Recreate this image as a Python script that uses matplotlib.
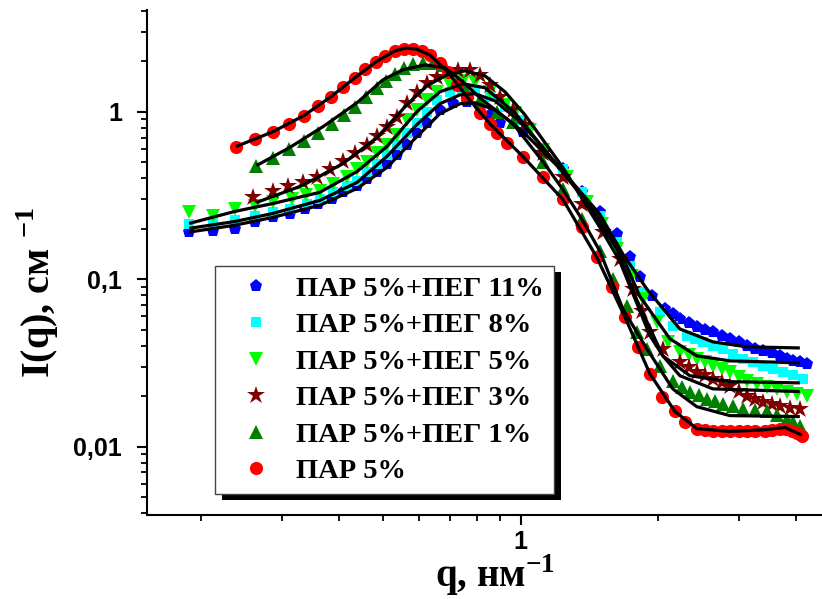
import matplotlib
matplotlib.use("Agg")
import matplotlib.pyplot as plt
from matplotlib.patches import Rectangle
from matplotlib.ticker import FixedLocator, FuncFormatter, NullFormatter

plt.rcParams["font.family"] = "Liberation Sans"
plt.rcParams["font.weight"] = "bold"
plt.rcParams["mathtext.fontset"] = "custom"
plt.rcParams["mathtext.rm"] = "Liberation Serif:bold"
plt.rcParams["mathtext.bf"] = "Liberation Serif:bold"

# --- measured points (q, nm^-1 ; I, cm^-1) ---
blue_q = [0.188, 0.212, 0.237, 0.262, 0.287, 0.312, 0.337, 0.360, 0.386, 0.408,
          0.438, 0.460, 0.484, 0.509, 0.536, 0.563, 0.592, 0.623, 0.665, 0.710,
          0.762, 0.813, 0.855, 0.900, 1.010, 1.117, 1.236, 1.360, 1.489, 1.623,
          1.731, 1.82, 1.934, 2.066, 2.15, 2.228, 2.33, 2.427, 2.53, 2.631,
          2.75, 2.867, 3.0, 3.123, 3.25, 3.384, 3.54, 3.688, 3.82, 3.937,
          4.08, 4.225]
blue_I = [0.191, 0.193, 0.198, 0.218, 0.234, 0.244, 0.261, 0.280, 0.299, 0.330,
          0.358, 0.394, 0.434, 0.484, 0.555, 0.636, 0.750, 0.860, 1.028, 1.131,
          1.147, 1.056, 0.960, 0.860, 0.760, 0.578, 0.452, 0.330, 0.251, 0.185,
          0.135, 0.103, 0.0792, 0.0663, 0.062, 0.0578, 0.0545, 0.0518, 0.050, 0.0484,
          0.046, 0.0440, 0.042, 0.0399, 0.0385, 0.0373, 0.036, 0.0348, 0.0335, 0.0325,
          0.0318, 0.0312]

cyan_q = [0.188, 0.212, 0.237, 0.262, 0.287, 0.312, 0.340, 0.363, 0.388, 0.416,
          0.438, 0.460, 0.484, 0.509, 0.536, 0.563, 0.592, 0.623, 0.655, 0.699,
          0.743, 0.793, 0.855, 0.923, 0.995, 1.117, 1.236, 1.360, 1.489, 1.623,
          1.731, 1.849, 2.015, 2.150, 2.308, 2.40, 2.501, 2.63, 2.767, 2.91,
          3.060, 3.22, 3.384, 3.56, 3.744, 3.94, 4.141]
cyan_I = [0.213, 0.215, 0.224, 0.237, 0.251, 0.261, 0.280, 0.299, 0.330, 0.358,
          0.383, 0.434, 0.484, 0.555, 0.636, 0.750, 0.860, 1.0, 1.179, 1.315,
          1.370, 1.35, 1.228, 1.071, 0.896, 0.611, 0.452, 0.330, 0.237, 0.166,
          0.120, 0.0837, 0.0636, 0.0525, 0.0458, 0.044, 0.0422, 0.040, 0.0383, 0.0358,
          0.0334, 0.0318, 0.0303, 0.029, 0.0280, 0.0267, 0.0254]

lime_q = [0.188, 0.212, 0.237, 0.262, 0.287, 0.315, 0.338, 0.363, 0.388, 0.416,
          0.438, 0.460, 0.484, 0.509, 0.536, 0.563, 0.592, 0.623, 0.655, 0.699,
          0.747, 0.793, 0.855, 0.923, 0.970, 1.046, 1.117, 1.261, 1.394, 1.504,
          1.623, 1.749, 1.849, 1.984, 2.097, 2.228, 2.33, 2.427, 2.53, 2.631,
          2.75, 2.867, 3.0, 3.123, 3.29, 3.454, 3.63, 3.819, 4.02, 4.225]
lime_I = [0.251, 0.237, 0.261, 0.272, 0.287, 0.299, 0.316, 0.334, 0.368, 0.410,
          0.452, 0.504, 0.570, 0.636, 0.730, 0.896, 1.028, 1.179, 1.315, 1.448,
          1.529, 1.509, 1.315, 1.101, 0.986, 0.781, 0.594, 0.410, 0.287, 0.213,
          0.151, 0.104, 0.0760, 0.0555, 0.0422, 0.0368, 0.035, 0.0334, 0.0318, 0.0303,
          0.029, 0.0280, 0.0262, 0.0247, 0.0237, 0.0228, 0.022, 0.0213, 0.0207, 0.0201]

star_q = [0.259, 0.287, 0.309, 0.333, 0.358, 0.382, 0.408, 0.433, 0.460, 0.484,
          0.509, 0.536, 0.563, 0.592, 0.623, 0.655, 0.689, 0.728, 0.775, 0.813,
          0.855, 0.900, 0.961, 1.020, 1.117, 1.236, 1.360, 1.511, 1.646, 1.758,
          1.840, 1.916, 2.045, 2.228, 2.33, 2.427, 2.53, 2.631, 2.75, 2.867,
          3.0, 3.123, 3.25, 3.384, 3.54, 3.688, 3.88, 4.078]
star_I = [0.308, 0.334, 0.358, 0.378, 0.410, 0.452, 0.511, 0.570, 0.636, 0.720,
          0.814, 0.934, 1.131, 1.315, 1.488, 1.615, 1.730, 1.78, 1.78, 1.661,
          1.448, 1.228, 1.028, 0.837, 0.570, 0.405, 0.280, 0.191, 0.132, 0.0873,
          0.0645, 0.0484, 0.0383, 0.0321, 0.030, 0.0280, 0.0267, 0.0254, 0.0242, 0.0231,
          0.0215, 0.0201, 0.0192, 0.0185, 0.018, 0.0175, 0.0171, 0.0168]

green_q = [0.263, 0.287, 0.311, 0.335, 0.360, 0.386, 0.410, 0.433, 0.458, 0.484,
           0.507, 0.530, 0.555, 0.580, 0.610, 0.642, 0.675, 0.747, 0.813, 0.886,
           0.961, 1.117, 1.236, 1.360, 1.489, 1.589, 1.706, 1.794, 1.887, 2.015,
           2.150, 2.25, 2.343, 2.45, 2.553, 2.66, 2.767, 2.91, 3.060, 3.25,
           3.454, 3.63, 3.819, 3.95, 4.078]
green_I = [0.477, 0.532, 0.602, 0.672, 0.750, 0.848, 0.960, 1.071, 1.228, 1.390,
           1.529, 1.684, 1.828, 1.931, 1.957, 1.957, 1.905, 1.448, 1.179, 1.0,
           0.872, 0.504, 0.343, 0.228, 0.147, 0.100, 0.0691, 0.0484, 0.0383, 0.0303,
           0.0247, 0.0228, 0.0213, 0.0202, 0.0193, 0.0186, 0.0180, 0.0174, 0.0168, 0.0165,
           0.0162, 0.0155, 0.0147, 0.0140, 0.0133]

red_q = [0.238, 0.262, 0.287, 0.311, 0.335, 0.360, 0.384, 0.408, 0.433, 0.456,
         0.482, 0.504, 0.530, 0.555, 0.580, 0.607, 0.632, 0.665, 0.692, 0.724,
         0.762, 0.813, 0.855, 0.886, 0.932, 1.010, 1.117, 1.236, 1.360, 1.466,
         1.582, 1.689, 1.803, 1.916, 2.034, 2.173, 2.285, 2.427, 2.53, 2.631,
         2.75, 2.867, 3.0, 3.123, 3.26, 3.420, 3.55, 3.688, 3.80, 3.917,
         4.02, 4.120]
red_I = [0.619, 0.691, 0.760, 0.848, 0.947, 1.086, 1.228, 1.409, 1.594, 1.803,
         1.984, 2.154, 2.307, 2.371, 2.371, 2.307, 2.184, 1.957, 1.730, 1.448,
         1.228, 0.986, 0.848, 0.750, 0.654, 0.540, 0.410, 0.299, 0.204, 0.135,
         0.0896, 0.0594, 0.0394, 0.0272, 0.0198, 0.0162, 0.0141, 0.0128, 0.0126, 0.01245,
         0.0123, 0.0123, 0.0123, 0.0123, 0.0124, 0.01245, 0.0126, 0.0128, 0.0127, 0.01245,
         0.0121, 0.0116]

# --- fitted curves (black lines) ---
blue_fit_q = [0.188, 0.237, 0.287, 0.363, 0.438, 0.509, 0.592, 0.665, 0.736, 0.793,
              0.877, 1.010, 1.236, 1.489, 1.672, 1.887, 2.228, 2.631, 3.123, 4.078]
blue_fit_I = [0.191, 0.210, 0.234, 0.276, 0.348, 0.464, 0.710, 0.973, 1.116, 1.131,
              1.028, 0.760, 0.439, 0.244, 0.141, 0.0872, 0.0504, 0.0422, 0.0394, 0.0388]
cyan_fit_q = [0.188, 0.237, 0.287, 0.363, 0.438, 0.509, 0.592, 0.665, 0.736, 0.793,
              0.877, 0.995, 1.117, 1.360, 1.623, 1.82, 2.119, 2.427, 2.867, 4.078]
cyan_fit_I = [0.201, 0.221, 0.247, 0.295, 0.378, 0.540, 0.837, 1.116, 1.262, 1.280,
              1.163, 0.872, 0.611, 0.321, 0.162, 0.0792, 0.0440, 0.0348, 0.0325, 0.0316]
lime_fit_q = [0.188, 0.237, 0.287, 0.363, 0.438, 0.509, 0.592, 0.665, 0.747, 0.834,
              0.970, 1.117, 1.394, 1.623, 1.794, 2.045, 2.343, 2.867, 4.078]
lime_fit_I = [0.215, 0.254, 0.283, 0.330, 0.439, 0.619, 1.0, 1.315, 1.468, 1.390,
              0.986, 0.611, 0.287, 0.151, 0.075, 0.0348, 0.0265, 0.0244, 0.0240]
star_fit_q = [0.264, 0.333, 0.408, 0.484, 0.563, 0.623, 0.689, 0.754, 0.834, 0.923,
              1.020, 1.236, 1.511, 1.646, 1.758, 1.916, 2.045, 2.228, 2.631, 4.078]
star_fit_I = [0.287, 0.363, 0.490, 0.700, 1.10, 1.428, 1.661, 1.754, 1.638, 1.315,
              0.960, 0.464, 0.191, 0.128, 0.082, 0.046, 0.0348, 0.0265, 0.0221, 0.0213]
green_fit_q = [0.264, 0.312, 0.369, 0.438, 0.499, 0.552, 0.617, 0.682, 0.747, 0.813,
               0.961, 1.117, 1.236, 1.360, 1.489, 1.672, 1.887, 2.150, 2.427, 2.867, 4.078]
green_fit_I = [0.477, 0.611, 0.814, 1.131, 1.55, 1.78, 1.905, 1.828, 1.509, 1.212,
               0.848, 0.504, 0.343, 0.228, 0.147, 0.0663, 0.0383, 0.0221, 0.0173, 0.0153, 0.0151]
red_fit_q = [0.238, 0.287, 0.335, 0.384, 0.433, 0.482, 0.530, 0.560, 0.590, 0.632,
             0.692, 0.762, 0.855, 1.010, 1.236, 1.466, 1.689, 1.916, 2.173, 2.427,
             2.867, 3.420, 3.782, 4.120]
red_fit_I = [0.619, 0.760, 0.947, 1.228, 1.594, 1.984, 2.307, 2.40, 2.37, 2.184,
             1.730, 1.228, 0.848, 0.540, 0.299, 0.135, 0.0594, 0.0272, 0.0162, 0.0128,
             0.0123, 0.0126, 0.0130, 0.0117]

labels = ["ПАР 5%+ПЕГ 11%", "ПАР 5%+ПЕГ 8%", "ПАР 5%+ПЕГ 5%",
          "ПАР 5%+ПЕГ 3%", "ПАР 5%+ПЕГ 1%", "ПАР 5%"]

series = [
    (blue_q, blue_I, "#0000ff", "p", 9.5),
    (cyan_q, cyan_I, "#00ffff", "s", 7.5),
    (lime_q, lime_I, "#00ff00", "v", 10),
    (star_q, star_I, "#800000", "*", 13.5),
    (green_q, green_I, "#008000", "^", 10),
    (red_q, red_I, "#ff0000", "o", 9.5),
]
fits = [(blue_fit_q, blue_fit_I), (cyan_fit_q, cyan_fit_I), (lime_fit_q, lime_fit_I),
        (star_fit_q, star_fit_I), (green_fit_q, green_fit_I), (red_fit_q, red_fit_I)]

fig = plt.figure(figsize=(8.22, 5.99), dpi=100)
ax = fig.add_axes([147 / 822, 1 - 515 / 599, 675 / 822, 505 / 599])

handles = []
for (q, I, col, mk, ms), lab in zip(series, labels):
    h, = ax.plot(q, I, linestyle="none", marker=mk, ms=ms, color=col,
                 markeredgewidth=0, label=lab, zorder=2)
    handles.append(h)
for q, I in fits:
    ax.plot(q, I, color="black", lw=2.3, zorder=3, solid_capstyle="butt")

ax.set_xscale("log")
ax.set_yscale("log")
ax.set_xlim(0.152, 4.56)
ax.set_ylim(0.0039, 4.05)

for side in ("top", "right"):
    ax.spines[side].set_visible(False)
for side in ("left", "bottom"):
    ax.spines[side].set_linewidth(1.5)

ax.xaxis.set_major_locator(FixedLocator([1]))
ax.xaxis.set_minor_locator(FixedLocator([0.2, 0.3, 0.4, 0.5, 0.6, 0.7, 0.8, 0.9, 2, 3, 4]))
ax.xaxis.set_major_formatter(FuncFormatter(lambda v, p: "1"))
ax.xaxis.set_minor_formatter(NullFormatter())

ax.yaxis.set_major_locator(FixedLocator([0.01, 0.1, 1]))
ax.yaxis.set_minor_locator(FixedLocator(
    [m * d for d in (0.001, 0.01, 0.1, 1) for m in range(2, 10)]))
ylab = {0.01: "0,01", 0.1: "0,1", 1: "1"}
ax.yaxis.set_major_formatter(FuncFormatter(lambda v, p: ylab.get(round(v, 3), "")))
ax.yaxis.set_minor_formatter(NullFormatter())

ax.tick_params(which="major", direction="out", length=7, width=1.5,
               labelsize=18, pad=4)
ax.tick_params(which="minor", direction="out", length=4.5, width=1.3)
ax.tick_params(axis="y", which="major", pad=11)

serif = {"family": "Liberation Serif", "weight": "bold", "size": 28}
ax.set_xlabel("q, нм$^{-1}$", fontdict=serif)
ax.xaxis.set_label_coords(0.515, -0.074)
ax.set_ylabel("I(q), см $^{-1}$", fontdict=dict(serif, size=29))
ax.yaxis.set_label_coords(-0.128, 0.44)

leg = ax.legend(handles=handles, loc="lower left", bbox_to_anchor=(0.1007, 0.0416),
                borderaxespad=0, frameon=True, fancybox=False, framealpha=1,
                edgecolor="#444444", borderpad=0.35, handlelength=2.2,
                handletextpad=0.3, labelspacing=0.37,
                prop={"family": "Liberation Serif", "weight": "bold", "size": 20.5})
leg.get_frame().set_linewidth(1.0)
leg.set_zorder(6)

# solid black drop shadow behind the legend box
fig.canvas.draw()
bb = leg.get_frame().get_window_extent()
inv = ax.transAxes.inverted()
(x0, y0), (x1, y1) = inv.transform([[bb.x0 + 7.5, bb.y0 - 6], [bb.x1 + 7.5, bb.y1 - 6]])
ax.add_patch(Rectangle((x0, y0), x1 - x0, y1 - y0, transform=ax.transAxes,
                       facecolor="black", edgecolor="none", zorder=5.5, clip_on=False))

fig.savefig("out.png", dpi=100)
